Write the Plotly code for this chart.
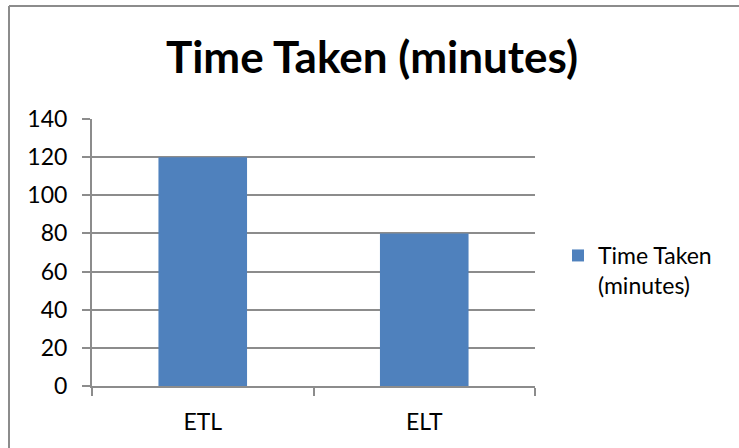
import plotly.graph_objects as go

categories = ["ETL", "ELT"]
values = [120, 80]
series_name = "Time Taken (minutes)"
y_ticks = [0, 20, 40, 60, 80, 100, 120, 140]

W, H = 739, 448
L, R, T, B = 92, 204, 119, 62
pw, ph = W - L - R, H - T - B

def px_x(x):
    return (x - L) / pw

def px_y(y):
    return (H - B - y) / ph

fig = go.Figure()
fig.add_trace(go.Bar(
    x=categories, y=values, name="Time Taken<br>(minutes)",
    marker=dict(color="#4f81bd", line=dict(width=0)),
    showlegend=True,
))

grid = "#8c8c8c"
border = dict(color="#8c8c8c", width=2)
fig.update_layout(
    width=W, height=H,
    margin=dict(l=L, r=R, t=T, b=B, pad=0),
    paper_bgcolor="white", plot_bgcolor="white",
    font=dict(family="Lato", size=23, color="#000000"),
    bargap=0.6,
    title=dict(text="<b>" + series_name + "</b>", x=372 / W, xanchor="center",
               y=1 - 58 / H, yanchor="middle", yref="container",
               font=dict(family="Lato", size=44, color="#000000")),
    showlegend=True,
    legend=dict(x=px_x(558), xanchor="left", y=px_y(234), yanchor="top",
                valign="top", font=dict(family="Lato", size=23),
                bgcolor="rgba(0,0,0,0)", tracegroupgap=0),
    xaxis=dict(type="category", showline=True, linecolor=grid, linewidth=2,
               ticks="outside", tickson="boundaries", ticklen=8, tickwidth=2,
               tickcolor=grid, showgrid=False, ticklabelstandoff=14,
               tickfont=dict(family="Lato", size=23)),
    yaxis=dict(range=[0, 140], tickvals=y_ticks, showline=True, linecolor=grid,
               linewidth=2, ticks="outside", ticklen=8, tickwidth=2, tickcolor=grid,
               showgrid=True, gridcolor=grid, gridwidth=2, zeroline=False,
               ticklabelstandoff=10, tickfont=dict(family="Lato", size=23)),
    shapes=[
        dict(type="line", xref="paper", yref="paper",
             x0=px_x(9), x1=px_x(9), y0=px_y(H + 5), y1=px_y(6), line=border),
        dict(type="line", xref="paper", yref="paper",
             x0=px_x(9), x1=px_x(W + 5), y0=px_y(6), y1=px_y(6), line=border),
    ],
)

fig.write_html("out.html")
